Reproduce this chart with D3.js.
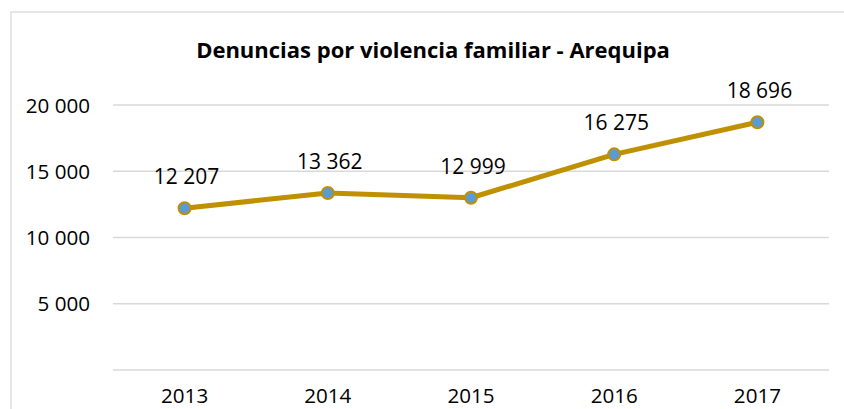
<!DOCTYPE html>
<html><head><meta charset="utf-8">
<script src="https://cdn.jsdelivr.net/npm/d3@7"></script>
<style>body{margin:0;background:#fff}svg{display:block}</style>
</head><body>
<svg id="c" width="844" height="409"></svg>
<script>
const years = ["2013","2014","2015","2016","2017"];
const values = [12207, 13362, 12999, 16275, 18696];
const yTicks = [0, 5000, 10000, 15000, 20000];
const title = "Denuncias por violencia familiar - Arequipa";

const svg = d3.select("#c");
const font = "'Open Sans', sans-serif";
// chart border
svg.append("rect").attr("x",11).attr("y",12).attr("width",850).attr("height",420)
  .attr("fill","none").attr("stroke","#d9d9d9").attr("stroke-width",1.3);

const x = d3.scaleBand().domain(years).range([113,829]);
const y = d3.scaleLinear().domain([0,20000]).range([370,105]);
const fmt = v => d3.format(",")(v).replace(/,/g," ");

// gridlines
svg.append("g").selectAll("line").data(yTicks).join("line")
  .attr("x1",113).attr("x2",829).attr("y1",d=>y(d)).attr("y2",d=>y(d))
  .attr("stroke","#d9d9d9").attr("stroke-width",1.5);

// y axis labels
const yAxis = svg.append("g").attr("transform","translate(90,0)")
  .call(d3.axisLeft(y).tickValues(yTicks.filter(d=>d>0)).tickFormat(fmt).tickSize(0).tickPadding(0));
yAxis.select(".domain").remove();
yAxis.selectAll("text").attr("font-family",font).attr("font-size",20.6).attr("fill","#000").attr("dy","0.35em");

// x axis labels
const xAxis = svg.append("g").attr("transform","translate(0,370)")
  .call(d3.axisBottom(x).tickSize(0).tickPadding(0));
xAxis.select(".domain").remove();
xAxis.selectAll("text").attr("font-family",font).attr("font-size",20.6).attr("fill","#000").attr("dy",null).attr("y",33);

// title
svg.append("text").attr("x",433).attr("y",58).attr("text-anchor","middle")
  .attr("font-family",font).attr("font-weight","bold").attr("font-size",22).attr("fill","#000").text(title);

const data = years.map((yr,i)=>({yr, v: values[i]}));
const cx = d => x(d.yr) + x.bandwidth()/2;

svg.append("path").datum(data)
  .attr("d", d3.line().x(cx).y(d=>y(d.v)))
  .attr("fill","none").attr("stroke","#BF9000").attr("stroke-width",5).attr("stroke-linejoin","round");

svg.append("g").selectAll("circle").data(data).join("circle")
  .attr("cx",cx).attr("cy",d=>y(d.v)).attr("r",6)
  .attr("fill","#5B9BD5").attr("stroke","#BF9000").attr("stroke-width",2);

svg.append("g").selectAll("text").data(data).join("text")
  .attr("x",d=>cx(d)+2).attr("y",d=>y(d.v)-24).attr("text-anchor","middle")
  .attr("font-family",font).attr("font-size",21).attr("fill","#000").text(d=>fmt(d.v));
</script>
</body></html>
